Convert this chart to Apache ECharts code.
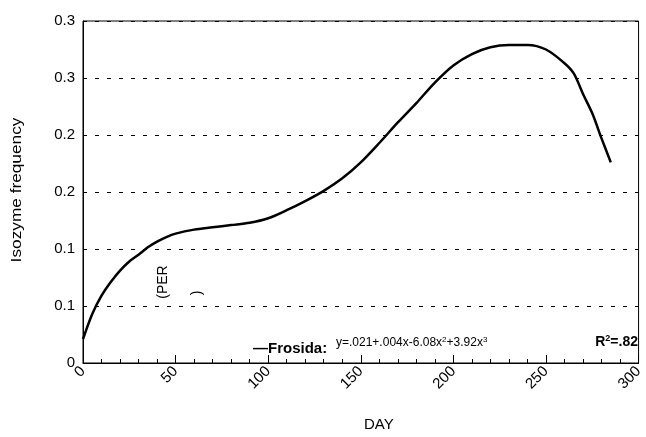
<!DOCTYPE html>
<html>
<head>
<meta charset="utf-8">
<script src="https://cdn.jsdelivr.net/npm/echarts@6/dist/echarts.min.js"></script>
<style>
  html, body { margin: 0; padding: 0; background: #fff; }
  #chart { width: 646px; height: 437px; }
</style>
</head>
<body>
<div id="chart"></div>
<script>
// fitted curve
var days = [0, 5, 10, 15, 20, 25, 30, 35, 40, 45, 50, 60, 70, 80, 90, 100, 110, 120, 130, 140,
	150, 160, 170, 180, 190, 200, 210, 220, 230, 240, 250, 260, 265, 270, 275, 280, 285];
var freq = [0.021, 0.043, 0.059, 0.071, 0.081, 0.089, 0.095, 0.1015, 0.1065, 0.1105, 0.1135, 0.117, 0.119, 0.121, 0.123, 0.127, 0.134, 0.142, 0.151, 0.162,
	0.176, 0.193, 0.211, 0.228, 0.246, 0.261, 0.271, 0.277, 0.279, 0.279, 0.275, 0.263, 0.254, 0.236, 0.219, 0.197, 0.176];

var seriesName = 'Frosida:';
var formula = 'y=.021+.004x-6.08x{s|2}+3.92x{s|3}';
var r2 = 'R{s|2}=.82';

var font = '"Liberation Sans", Arial, sans-serif';

var chart = echarts.init(document.getElementById('chart'), null, { renderer: 'canvas' });

var points = days.map(function (d, i) { return [d, freq[i]]; });

chart.setOption({
	animation: false,
	backgroundColor: '#fff',
	grid: {
		left: 83, right: 5, top: 21, bottom: 74,
		show: true, borderColor: '#000', borderWidth: 1, backgroundColor: 'transparent'
	},
	xAxis: {
		type: 'value', min: 0, max: 300, interval: 50,
		name: 'DAY', nameLocation: 'middle', nameGap: 54,
		nameTextStyle: { fontFamily: font, fontSize: 15, color: '#000', padding: [0, 0, 0, 36] },
		axisLine: { lineStyle: { color: '#000', width: 1 } },
		axisTick: { inside: true, length: 8, lineStyle: { color: '#000' } },
		minorTick: { show: true, splitNumber: 5, length: 4, lineStyle: { color: '#000' } },
		axisLabel: { rotate: 45, margin: 6, fontFamily: font, fontSize: 15, color: '#000' },
		splitLine: { show: false }
	},
	yAxis: {
		type: 'value', min: 0, max: 0.3, interval: 0.05,
		axisLine: { show: true, lineStyle: { color: '#000', width: 1 } },
		axisTick: { show: false },
		axisLabel: {
			margin: 8, fontFamily: font, fontSize: 15, color: '#000',
			formatter: function (v) { return String(Math.round(v * 10) / 10); }
		},
		splitLine: { show: true, lineStyle: { color: '#000', type: [4, 8], width: 1 } }
	},
	series: [{
		type: 'line',
		data: points,
		smooth: 0.3,
		showSymbol: false,
		lineStyle: { color: '#000', width: 2.5 }
	}],
	graphic: [
		// y axis title, a bit stretched along its length like the original
		{ type: 'text', x: 17, y: 190, rotation: Math.PI / 2, scaleX: 1.15,
			style: { text: 'Isozyme frequency', font: '15px ' + font, fill: '#000', textAlign: 'center', textVerticalAlign: 'middle' } },
		{ type: 'text', x: 163, y: 282, rotation: Math.PI / 2,
			style: { text: '(PER', font: '14px ' + font, fill: '#000', textAlign: 'center', textVerticalAlign: 'middle' } },
		{ type: 'text', x: 197, y: 293, rotation: Math.PI / 2,
			style: { text: ')', font: '14px ' + font, fill: '#000', textAlign: 'center', textVerticalAlign: 'middle' } },
		{ type: 'text', x: 253, y: 349,
			style: { text: '\u2014' + seriesName, font: 'bold 15px ' + font, fill: '#000', textAlign: 'left', textVerticalAlign: 'middle' } },
		{ type: 'text', x: 336, y: 343,
			style: {
				text: formula, font: '12px ' + font, fill: '#000', textAlign: 'left', textVerticalAlign: 'middle',
				rich: { s: { fontSize: 8, fontFamily: font, verticalAlign: 'top', lineHeight: 14 } }
			} },
		{ type: 'text', x: 638, y: 342,
			style: {
				text: r2, font: 'bold 14px ' + font, fill: '#000', textAlign: 'right', textVerticalAlign: 'middle',
				rich: { s: { fontSize: 9, fontWeight: 'bold', fontFamily: font, verticalAlign: 'top', lineHeight: 16 } }
			} }
	]
});
</script>
</body>
</html>
